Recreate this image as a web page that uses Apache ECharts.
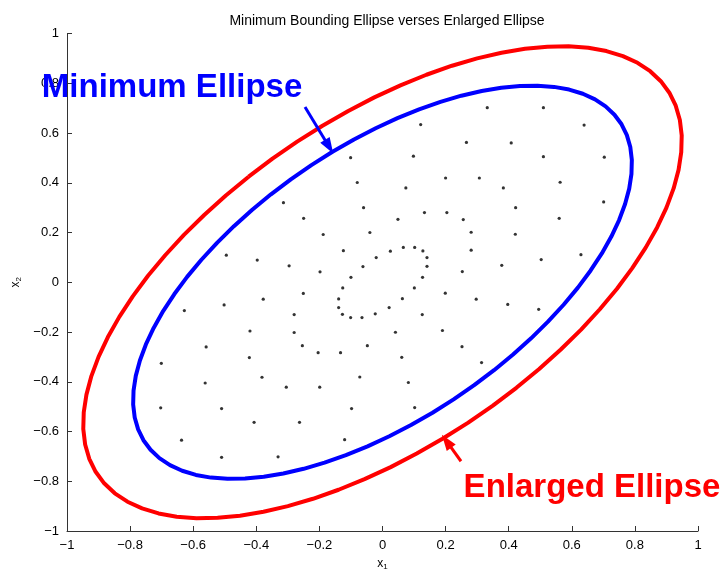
<!DOCTYPE html>
<html><head><meta charset="utf-8">
<script src="https://cdn.jsdelivr.net/npm/echarts@6/dist/echarts.min.js"></script>
<style>html,body{margin:0;padding:0;background:#fff}#c{width:726px;height:569px}</style>
</head><body><div id="c"></div>
<script>
const xTickLabels = ['−1','−0.8','−0.6','−0.4','−0.2','0','0.2','0.4','0.6','0.8','1'];
const yTickLabels = ['−1','−0.8','−0.6','−0.4','−0.2','0','0.2','0.4','0.6','0.8','1'];

const points = [
[0.332,0.702],[0.510,0.702],[0.121,0.634],[0.639,0.632],[0.266,0.562],[0.408,0.560],
[-0.101,0.501],[0.098,0.507],[0.510,0.505],[0.703,0.503],[-0.080,0.401],[0.074,0.379],
[0.200,0.419],[0.307,0.419],[0.383,0.379],[0.563,0.402],[-0.314,0.320],[-0.060,0.300],
[0.422,0.300],[0.701,0.323],[-0.250,0.257],[0.049,0.253],[0.133,0.280],[0.204,0.280],
[0.256,0.252],[0.560,0.257],[-0.188,0.192],[-0.040,0.200],[0.281,0.201],[0.421,0.193],
[-0.124,0.127],[0.025,0.125],[0.066,0.140],[0.102,0.140],[0.128,0.126],[-0.020,0.099],
[0.141,0.099],[0.281,0.129],[-0.495,0.109],[-0.397,0.089],[0.503,0.091],[0.629,0.111],
[-0.296,0.066],[-0.198,0.042],[0.141,0.064],[-0.062,0.063],[-0.100,0.020],[0.127,0.020],
[0.253,0.043],[-0.126,-0.023],[0.101,-0.023],[-0.251,-0.045],[0.199,-0.044],[-0.378,-0.068],
[-0.139,-0.067],[0.063,-0.066],[0.297,-0.068],[-0.502,-0.091],[-0.139,-0.102],[0.021,-0.102],
[-0.628,-0.114],[-0.280,-0.130],[-0.127,-0.129],[-0.101,-0.142],[-0.065,-0.142],[-0.023,-0.127],
[0.126,-0.130],[-0.280,-0.202],[-0.420,-0.196],[0.041,-0.201],[0.190,-0.194],[-0.559,-0.260],
[-0.254,-0.255],[-0.048,-0.255],[0.252,-0.259],[-0.204,-0.283],[-0.133,-0.283],[-0.422,-0.303],
[0.061,-0.302],[-0.701,-0.326],[0.314,-0.323],[-0.382,-0.382],[-0.072,-0.381],[-0.562,-0.405],
[0.082,-0.403],[-0.305,-0.422],[-0.199,-0.422],[-0.703,-0.505],[-0.510,-0.508],[-0.098,-0.508],
[0.102,-0.504],[-0.407,-0.563],[-0.263,-0.563],[-0.637,-0.635],[-0.510,-0.704],[-0.331,-0.702],
[-0.120,-0.633],[0.495,-0.109],[0.397,-0.089],[0.378,0.068]
];

const minEllipse = [
[-0.3536,0.3536],[-0.4138,0.2906],[-0.4709,0.2254],[-0.5245,0.1585],[-0.5740,0.0904],[-0.6193,0.0216],
[-0.6597,-0.0474],[-0.6952,-0.1160],[-0.7253,-0.1837],[-0.7500,-0.2500],[-0.7689,-0.3144],[-0.7820,-0.3764],
[-0.7891,-0.4356],[-0.7903,-0.4914],[-0.7854,-0.5436],[-0.7745,-0.5915],[-0.7577,-0.6350],[-0.7352,-0.6736],
[-0.7071,-0.7071],[-0.6736,-0.7352],[-0.6350,-0.7577],[-0.5915,-0.7745],[-0.5436,-0.7854],[-0.4914,-0.7903],
[-0.4356,-0.7891],[-0.3764,-0.7820],[-0.3144,-0.7689],[-0.2500,-0.7500],[-0.1837,-0.7253],[-0.1160,-0.6952],
[-0.0474,-0.6597],[0.0216,-0.6193],[0.0904,-0.5740],[0.1585,-0.5245],[0.2254,-0.4709],[0.2906,-0.4138],
[0.3536,-0.3536],[0.4138,-0.2906],[0.4709,-0.2254],[0.5245,-0.1585],[0.5740,-0.0904],[0.6193,-0.0216],
[0.6597,0.0474],[0.6952,0.1160],[0.7253,0.1837],[0.7500,0.2500],[0.7689,0.3144],[0.7820,0.3764],
[0.7891,0.4356],[0.7903,0.4914],[0.7854,0.5436],[0.7745,0.5915],[0.7577,0.6350],[0.7352,0.6736],
[0.7071,0.7071],[0.6736,0.7352],[0.6350,0.7577],[0.5915,0.7745],[0.5436,0.7854],[0.4914,0.7903],
[0.4356,0.7891],[0.3764,0.7820],[0.3144,0.7689],[0.2500,0.7500],[0.1837,0.7253],[0.1160,0.6952],
[0.0474,0.6597],[-0.0216,0.6193],[-0.0904,0.5740],[-0.1585,0.5245],[-0.2254,0.4709],[-0.2906,0.4138],
[-0.3536,0.3536]
];

const enlargedEllipse = [
[-0.4243,0.4243],[-0.4966,0.3487],[-0.5651,0.2705],[-0.6294,0.1902],[-0.6888,0.1085],[-0.7432,0.0259],
[-0.7916,-0.0569],[-0.8342,-0.1392],[-0.8704,-0.2204],[-0.9000,-0.3000],[-0.9227,-0.3773],[-0.9384,-0.4517],
[-0.9469,-0.5227],[-0.9484,-0.5897],[-0.9425,-0.6523],[-0.9294,-0.7098],[-0.9092,-0.7620],[-0.8822,-0.8083],
[-0.8485,-0.8485],[-0.8083,-0.8822],[-0.7620,-0.9092],[-0.7098,-0.9294],[-0.6523,-0.9425],[-0.5897,-0.9484],
[-0.5227,-0.9469],[-0.4517,-0.9384],[-0.3773,-0.9227],[-0.3000,-0.9000],[-0.2204,-0.8704],[-0.1392,-0.8342],
[-0.0569,-0.7916],[0.0259,-0.7432],[0.1085,-0.6888],[0.1902,-0.6294],[0.2705,-0.5651],[0.3487,-0.4966],
[0.4243,-0.4243],[0.4966,-0.3487],[0.5651,-0.2705],[0.6294,-0.1902],[0.6888,-0.1085],[0.7432,-0.0259],
[0.7916,0.0569],[0.8342,0.1392],[0.8704,0.2204],[0.9000,0.3000],[0.9227,0.3773],[0.9384,0.4517],
[0.9469,0.5227],[0.9484,0.5897],[0.9425,0.6523],[0.9294,0.7098],[0.9092,0.7620],[0.8822,0.8083],
[0.8485,0.8485],[0.8083,0.8822],[0.7620,0.9092],[0.7098,0.9294],[0.6523,0.9425],[0.5897,0.9484],
[0.5227,0.9469],[0.4517,0.9384],[0.3773,0.9227],[0.3000,0.9000],[0.2204,0.8704],[0.1392,0.8342],
[0.0569,0.7916],[-0.0259,0.7432],[-0.1085,0.6888],[-0.1902,0.6294],[-0.2705,0.5651],[-0.3487,0.4966],
[-0.4243,0.4243]
];

const FONT = '"Liberation Sans", Arial, Helvetica, sans-serif';
const chart = echarts.init(document.getElementById('c'), null, {renderer: 'canvas'});

function tickFmt(labels) {
  return function (v) { return labels[Math.round((v + 1) / 0.2)]; };
}

chart.setOption({
  animation: false,
  backgroundColor: '#fff',
  title: {
    text: 'Minimum Bounding Ellipse verses Enlarged Ellipse',
    left: 382, top: 9, textAlign: 'center',
    textStyle: {fontFamily: FONT, fontSize: 14, fontWeight: 'normal', color: '#000'}
  },
  grid: {left: 67, right: 28, top: 33.5, bottom: 38, containLabel: false, outerBoundsMode: 'none'},
  xAxis: {
    type: 'value', min: -1, max: 1, interval: 0.2,
    name: 'x{s|1}', nameLocation: 'middle', nameGap: 25,
    nameTextStyle: {fontFamily: FONT, fontSize: 12, color: '#000', lineHeight: 14,
      rich: {s: {fontFamily: FONT, fontSize: 8, color: '#000', verticalAlign: 'bottom', lineHeight: 8}}},
    axisLine: {show: true, onZero: false, lineStyle: {color: '#333', width: 1}},
    axisTick: {show: true, inside: true, length: 5, lineStyle: {color: '#333'}},
    splitLine: {show: false},
    axisLabel: {formatter: tickFmt(xTickLabels), margin: 8, fontFamily: FONT, fontSize: 13, color: '#000',
      showMinLabel: true, showMaxLabel: true}
  },
  yAxis: {
    type: 'value', min: -1, max: 1, interval: 0.2,
    name: 'x{s|2}', nameLocation: 'middle', nameGap: 41, nameRotate: 90,
    nameTextStyle: {fontFamily: FONT, fontSize: 12, color: '#000', lineHeight: 14,
      rich: {s: {fontFamily: FONT, fontSize: 8, color: '#000', verticalAlign: 'bottom', lineHeight: 8}}},
    axisLine: {show: true, onZero: false, lineStyle: {color: '#333', width: 1}},
    axisTick: {show: true, inside: true, length: 5, lineStyle: {color: '#333'}},
    splitLine: {show: false},
    axisLabel: {formatter: tickFmt(yTickLabels), margin: 8, fontFamily: FONT, fontSize: 13, color: '#000',
      showMinLabel: true, showMaxLabel: true}
  },
  series: [
    {
      name: 'Enlarged Ellipse', type: 'line', data: enlargedEllipse, smooth: false,
      showSymbol: false, symbol: 'none', silent: true,
      lineStyle: {color: '#ff0000', width: 4, join: 'round'}, z: 2
    },
    {
      name: 'Minimum Ellipse', type: 'line', data: minEllipse, smooth: false,
      showSymbol: false, symbol: 'none', silent: true,
      lineStyle: {color: '#0000ff', width: 4, join: 'round'}, z: 3
    },
    {
      name: 'points', type: 'scatter', data: points, symbol: 'circle', symbolSize: 3.2,
      itemStyle: {color: '#000'}, silent: true, z: 4
    },
    {
      name: 'annotations', type: 'scatter', data: [], clip: false, silent: true, z: 5,
      markLine: {
        silent: true, symbol: ['none', 'triangle'], symbolSize: [11, 16], animation: false,
        label: {show: false},
        data: [
          [{coord: [-0.2456, 0.7047], lineStyle: {color: '#0000ff', width: 3, type: 'solid'}, itemStyle: {color: '#0000ff'}},
           {coord: [-0.1693, 0.5447]}],
          [{coord: [0.2488, -0.7196], lineStyle: {color: '#ff0000', width: 3, type: 'solid'}, itemStyle: {color: '#ff0000'}},
           {coord: [0.2030, -0.6390]}]
        ]
      },
      markPoint: {
        silent: true, symbol: 'circle', symbolSize: 0, animation: false,
        data: [
          {coord: [-0.667, 0.780], label: {show: true, position: 'inside', formatter: 'Minimum Ellipse',
            fontFamily: FONT, fontSize: 33, fontWeight: 'bold', color: '#0000ff'}},
          {coord: [0.664, -0.825], label: {show: true, position: 'inside', formatter: 'Enlarged Ellipse',
            fontFamily: FONT, fontSize: 33, fontWeight: 'bold', color: '#ff0000'}}
        ]
      }
    }
  ]
});
</script>
</body></html>
